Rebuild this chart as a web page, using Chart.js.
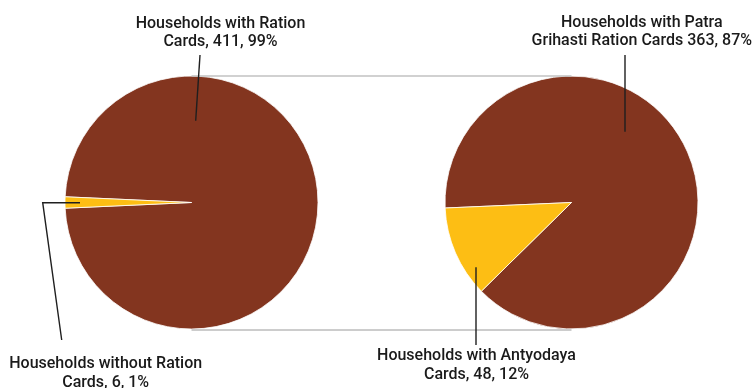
<!DOCTYPE html>
<html>
<head>
<meta charset="utf-8">
<script src="https://cdn.jsdelivr.net/npm/chart.js@4.4.1/dist/chart.umd.min.js"></script>
<style>
  html, body { margin: 0; padding: 0; background: #ffffff; }
  #wrap { position: relative; width: 752px; height: 388px; overflow: hidden; }
  #wrap canvas { position: absolute; left: 0; top: 0; }
</style>
</head>
<body>
<div id="wrap">
  <canvas id="mainPie" width="752" height="388"></canvas>
  <canvas id="subPie" width="752" height="388"></canvas>
</div>
<script>
// All surveyed households, split by whether they hold a ration card
const mainCategories = ["Households with Ration Cards", "Households without Ration Cards"];
const mainValues = [411, 6];
const mainLabels = ["Households with Ration Cards, {v}, {p}%", "Households without Ration Cards, {v}, {p}%"];

// Card holders, split by type of card
const subCategories = ["Households with Patra Grihasti Ration Cards", "Households with Antyodaya Cards"];
const subValues = [363, 48];
const subLabels = ["Households with Patra Grihasti Ration Cards {v}, {p}%", "Households with Antyodaya Cards, {v}, {p}%"];

const sliceColors = ["#83351f", "#fdbe14"];
const totalHouseholds = mainValues.reduce((a, b) => a + b, 0);

const PIE_RADIUS = 126.5;
const FONT = '500 16px Roboto, "Noto Sans", sans-serif';
const LINE_HEIGHT = 18.6;

function labelText(template, v) {
  const p = Math.round(v / totalHouseholds * 100);
  return template.replace("{v}", v).replace("{p}", p);
}
// first three words on the first line, the rest on the second
function splitLines(text) {
  const words = text.split(" ");
  return [words.slice(0, 3).join(" "), words.slice(3).join(" ")];
}

function pieOptions(padding, rotation) {
  return {
    responsive: false,
    animation: false,
    events: [],
    rotation: rotation,
    radius: PIE_RADIUS,
    layout: { padding: padding },
    plugins: { legend: { display: false }, tooltip: { enabled: false } },
    elements: { arc: { borderColor: "#ffffff", borderWidth: 0.8 } }
  };
}

// Left pie: the small slice is centred on the left-hand side
const mainSmallAngle = mainValues[1] / totalHouseholds * 360;
const mainChart = new Chart(document.getElementById("mainPie"), {
  type: "pie",
  data: {
    labels: mainCategories,
    datasets: [{ data: mainValues, backgroundColor: sliceColors }]
  },
  options: pieOptions({ left: 65, right: 434, top: 76, bottom: 59 }, 270 + mainSmallAngle / 2)
});

// Callouts: leader polyline and label anchor, as offsets from the pie centre
const mainCallouts = [
  { leader: [[4.2, -81.8], [8.5, -147.5]], text: [29, -175] },
  { leader: [[-111.5, 0.2], [-148.8, 0.2], [-129.8, 137.5]], text: [-85.8, 165.8] }
];
const subCallouts = [
  { leader: [[53.5, -70.8], [53.5, -147.5]], text: [70.3, -175.8] },
  { leader: [[-95.5, 64.8], [-95.5, 142.5]], text: [-95, 157.5] }
];

function drawCallouts(ctx, arc, callouts, templates, values) {
  callouts.forEach((c, i) => {
    ctx.save();
    ctx.strokeStyle = "#1f1f1f";
    ctx.lineWidth = 1.4;
    ctx.beginPath();
    c.leader.forEach((pt, j) => {
      const x = arc.x + pt[0], y = arc.y + pt[1];
      if (j === 0) ctx.moveTo(x, y); else ctx.lineTo(x, y);
    });
    ctx.stroke();
    ctx.fillStyle = "#1a1a1a";
    ctx.font = FONT;
    ctx.textAlign = "center";
    ctx.textBaseline = "alphabetic";
    const lines = splitLines(labelText(templates[i], values[i]));
    lines.forEach((line, k) => {
      ctx.fillText(line, arc.x + c.text[0], arc.y + c.text[1] + k * LINE_HEIGHT);
    });
    ctx.restore();
  });
}

const calloutPlugin = {
  id: "pieOfPieCallouts",
  afterDraw(chart) {
    const ctx = chart.ctx;
    const left = mainChart.getDatasetMeta(0).data[0];
    const right = chart.getDatasetMeta(0).data[0];
    // connectors between the two pies
    ctx.save();
    ctx.strokeStyle = "#c2c2c2";
    ctx.lineWidth = 1.6;
    ctx.beginPath();
    ctx.moveTo(left.x, left.y - left.outerRadius);
    ctx.lineTo(right.x, right.y - right.outerRadius);
    ctx.stroke();
    ctx.strokeStyle = "#9a9a9a";
    ctx.lineWidth = 1;
    ctx.beginPath();
    ctx.moveTo(left.x, left.y + left.outerRadius + 1);
    ctx.lineTo(right.x, right.y + right.outerRadius + 1);
    ctx.stroke();
    ctx.restore();
    drawCallouts(ctx, left, mainCallouts, mainLabels, mainValues);
    drawCallouts(ctx, right, subCallouts, subLabels, subValues);
  }
};

// Right pie: the Antyodaya slice ends just below the left-hand side
const subChart = new Chart(document.getElementById("subPie"), {
  type: "pie",
  data: {
    labels: subCategories,
    datasets: [{ data: subValues, backgroundColor: sliceColors }]
  },
  options: pieOptions({ left: 445, right: 54, top: 76, bottom: 59 }, 267.5),
  plugins: [calloutPlugin]
});
</script>
</body>
</html>
